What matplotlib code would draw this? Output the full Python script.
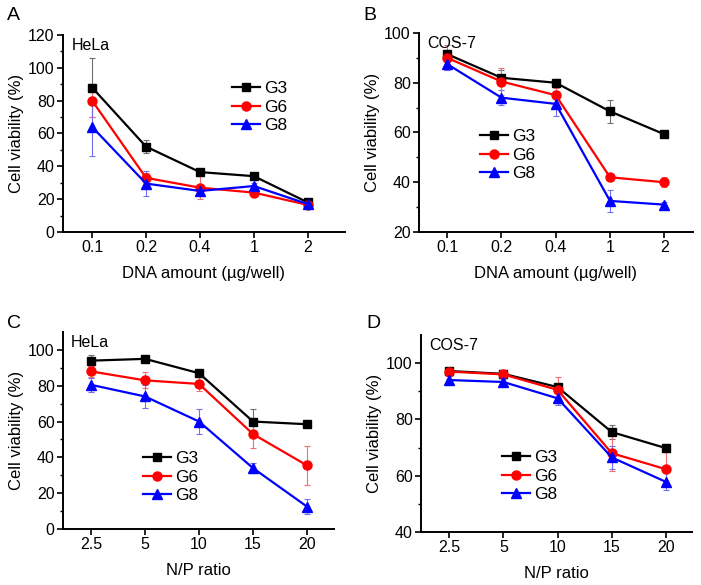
import numpy as np
import matplotlib
matplotlib.use('Agg')
import matplotlib.pyplot as plt

plt.rcParams['font.family'] = ['Liberation Sans', 'DejaVu Sans']

dna_labels = ['0.1', '0.2', '0.4', '1', '2']
np_labels = ['2.5', '5', '10', '15', '20']
groups = ['G3', 'G6', 'G8']

# panel A: HeLa, DNA amount
a_mean = [[88, 52, 36.5, 34, 18],
          [80, 33, 27, 24, 16.5],
          [64, 29.5, 25, 28, 17]]
a_err = [[18, 4, 1, 1, 1],
         [10, 3, 7, 1, 2],
         [18, 7.5, 2, 2, 1]]

# panel B: COS-7, DNA amount
b_mean = [[91.5, 82, 80, 68.5, 59.3],
          [90, 80.5, 75, 42, 40],
          [87.5, 74, 71.5, 32.5, 31]]
b_err = [[1.5, 3, 1.5, 4.5, 1],
         [5, 5.5, 3, 1.5, 2],
         [2.5, 3, 5, 4.5, 1]]

# panel C: HeLa, N/P ratio
c_mean = [[94, 95, 87, 60, 58.5],
          [88, 83, 81, 53, 35.5],
          [80.5, 74, 60, 34, 12.5]]
c_err = [[3, 1.5, 1, 7, 1],
         [3, 4.5, 4, 8, 11],
         [4, 6.5, 7, 3, 4]]

# panel D: COS-7, N/P ratio
d_mean = [[97.2, 96.2, 91.5, 75.5, 69.8],
          [97, 96, 90.5, 68, 62.3],
          [94, 93.3, 87.5, 66.5, 57.8]]
d_err = [[0.5, 0.5, 1, 2.5, 1.5],
         [0.5, 1, 4.5, 6.5, 6],
         [0.5, 1, 2.5, 4, 3]]

colors = ['#000000', '#ff0000', '#0000ff']
err_colors = ['#707070', '#f07070', '#7070f0']
markers = ['s', 'o', '^']
msizes = [5.5, 6.5, 6.5]

W, H = 701, 585
fig = plt.figure(figsize=(W / 100, H / 100), dpi=100)


def px_axes(l, r, t, b):
    return fig.add_axes([l / W, 1 - b / H, (r - l) / W, (b - t) / H])


def panel(ax, means, errs, xlabels, xlab, ylim, yticks, cell, letter, letter_xy, leg_xy, xlim):
    x = np.arange(len(xlabels))
    for i in range(3):
        ax.errorbar(x, means[i], yerr=errs[i], fmt='none', ecolor=err_colors[i],
                    elinewidth=0.8, capsize=2, capthick=0.8, zorder=2)
    for i in range(3):
        ax.plot(x, means[i], color=colors[i], marker=markers[i], ms=msizes[i],
                lw=1.6, label=groups[i], zorder=3)
    ax.set_xlim(*xlim)
    ax.set_ylim(*ylim)
    ax.set_xticks(x)
    ax.set_xticklabels(xlabels)
    ax.set_yticks(yticks)
    step = yticks[1] - yticks[0]
    ax.set_yticks(np.arange(ylim[0] + step / 2, ylim[1], step), minor=True)
    ax.spines['top'].set_visible(False)
    ax.spines['right'].set_visible(False)
    ax.spines['left'].set_linewidth(1.4)
    ax.spines['bottom'].set_linewidth(1.4)
    ax.tick_params(axis='both', which='major', direction='out', length=4, width=1.2,
                   labelsize=11.5, pad=2)
    ax.tick_params(axis='y', which='minor', direction='out', length=2.5, width=1.0)
    ax.set_xlabel(xlab, fontsize=12, labelpad=8)
    ax.set_ylabel('Cell viability (%)', fontsize=12, labelpad=3)
    ax.text(0.03, 0.985, cell, transform=ax.transAxes, fontsize=11.5, va='top', ha='left')
    fig.text(letter_xy[0] / W, 1 - letter_xy[1] / H, letter, fontsize=14,
             va='center', ha='left')
    ax.legend(loc='upper left', bbox_to_anchor=(leg_xy[0] / W, 1 - leg_xy[1] / H),
              bbox_transform=fig.transFigure, frameon=False, fontsize=12.5,
              handlelength=1.6, handletextpad=0.25, labelspacing=0.2,
              borderpad=0, borderaxespad=0)


axA = px_axes(63, 345, 35, 232)
panel(axA, a_mean, a_err, dna_labels, 'DNA amount (\u00b5g/well)', (0, 120),
      [0, 20, 40, 60, 80, 100, 120], 'HeLa', 'A', (7, 16), (232, 81), (-0.54, 4.69))

axB = px_axes(419, 693, 33, 232)
panel(axB, b_mean, b_err, dna_labels, 'DNA amount (\u00b5g/well)', (20, 100),
      [20, 40, 60, 80, 100], 'COS-7', 'B', (363, 15), (480, 129), (-0.52, 4.53))

axC = px_axes(63, 334, 332, 529)
panel(axC, c_mean, c_err, np_labels, 'N/P ratio', (0, 110),
      [0, 20, 40, 60, 80, 100], 'HeLa', 'C', (7, 323), (143, 451), (-0.52, 4.5))

axD = px_axes(421, 692, 335, 532)
panel(axD, d_mean, d_err, np_labels, 'N/P ratio', (40, 110),
      [40, 60, 80, 100], 'COS-7', 'D', (366, 323), (502, 450), (-0.52, 4.48))

fig.savefig('out.png', dpi=100)
